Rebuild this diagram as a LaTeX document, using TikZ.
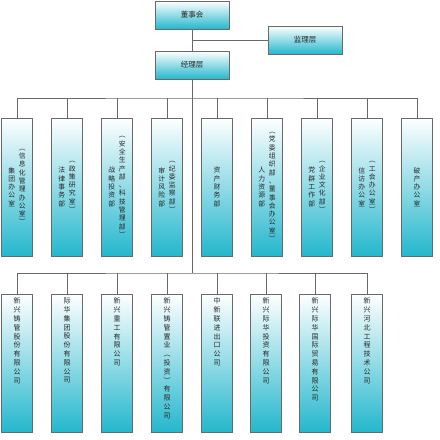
\documentclass[tikz,border=0pt]{standalone}
\usepackage{fontspec}
\newfontfamily\cjk{Noto Sans CJK SC}
\definecolor{boxcyan}{RGB}{36,183,205}
\definecolor{linegray}{RGB}{105,105,105}
\makeatletter
\newcommand\vcolumn[1]{\vbox{\@tfor\ch:=#1\do{\hbox to 1em{\hss\ch\hss}}}}
\makeatother
\newcommand\twocol[2]{$\vcenter{\vcolumn{#1}}\kern3.8pt\vcenter{\vcolumn{#2}}$}
\newcommand\topcol[1]{\vbox to 130pt{\vcolumn{#1}\vss}}

\begin{document}
\begin{tikzpicture}[x=1pt,y=-1pt,
    unit/.style={draw=linegray,line width=0.8pt,top color=white,bottom color=boxcyan,inner sep=0pt,text=black!85},
    head/.style={unit,minimum width=74pt,minimum height=28pt,font=\cjk\fontsize{7.5}{9}\selectfont},
    dept/.style={unit,minimum width=31pt,minimum height=138pt,font=\cjk\fontsize{6.8}{8.3}\selectfont},
    firm/.style={unit,minimum width=31pt,minimum height=138pt,font=\cjk\fontsize{7}{8.8}\selectfont},
    conn/.style={draw=linegray,line width=0.8pt}]
    \useasboundingbox (0,0) rectangle (440,440);
    % top
    \node[head] (dsh) at (192,15) {董事会};
    \node[head] (jlh) at (305,40) {监理层};
    \node[head] (jlc) at (192,65) {经理层};
    % departments
    \node[dept] (t1) at (17,187) {\twocol{集团办公室}{︵信息化管理办公室︶}};
    \node[dept] (t2) at (67,187) {\twocol{法律事务部}{︵政策研究室︶}};
    \node[dept] (t3) at (117,187) {\twocol{战略投资部}{︵安全生产部、科技管理部︶}};
    \node[dept] (t4) at (167,187) {\twocol{审计风险部}{︵纪委监察部︶}};
    \node[dept] (t5) at (217,187) {\vcolumn{资产财务部}};
    \node[dept] (t6) at (267,187) {\twocol{人力资源部}{︵党委组织部、董事会办公室︶}};
    \node[dept] (t7) at (317,187) {\twocol{党群工作部}{︵企业文化部︶}};
    \node[dept] (t8) at (367,187) {\twocol{信访办公室}{︵工会办公室︶}};
    \node[dept] (t9) at (417,187) {\vcolumn{破产办公室}};
    % companies
    \node[firm] (b1) at (17,363) {\topcol{新兴铸管股份有限公司}};
    \node[firm] (b2) at (67,363) {\topcol{际华集团股份有限公司}};
    \node[firm] (b3) at (117,363) {\topcol{新兴重工有限公司}};
    \node[firm] (b4) at (167,363) {\topcol{新兴铸管置业︵投资︶有限公司}};
    \node[firm] (b5) at (217,363) {\topcol{中新联进出口公司}};
    \node[firm] (b6) at (266,363) {\topcol{新兴际华投资有限公司}};
    \node[firm] (b7) at (315,363) {\topcol{新兴际华国际贸易有限公司}};
    \node[firm] (b8) at (367,363) {\topcol{新兴河北工程技术公司}};
    % lines
    \coordinate (jl) at (192,40);
    \coordinate (topbus) at (192,98);
    \coordinate (lowbus) at (192,273);
    \draw[conn] (dsh) -- (jlc);
    \draw[conn] (jl) -- (jlh);
    \draw[conn] (jlc) -- (lowbus);
    \draw[conn] (t1) |- (topbus) -| (t9);
    \draw[conn] (t2) -- (t2 |- topbus);
    \draw[conn] (t3) -- (t3 |- topbus);
    \draw[conn] (t4) -- (t4 |- topbus);
    \draw[conn] (t5) -- (t5 |- topbus);
    \draw[conn] (t6) -- (t6 |- topbus);
    \draw[conn] (t7) -- (t7 |- topbus);
    \draw[conn] (t8) -- (t8 |- topbus);
    \draw[conn] (b1) |- (lowbus) -| (b8);
    \draw[conn] (b2) -- (b2 |- lowbus);
    \draw[conn] (b3) -- (b3 |- lowbus);
    \draw[conn] (b4) -- (b4 |- lowbus);
    \draw[conn] (b5) -- (b5 |- lowbus);
    \draw[conn] (b6) -- (b6 |- lowbus);
    \draw[conn] (b7) -- (b7 |- lowbus);
\end{tikzpicture}
\end{document}
